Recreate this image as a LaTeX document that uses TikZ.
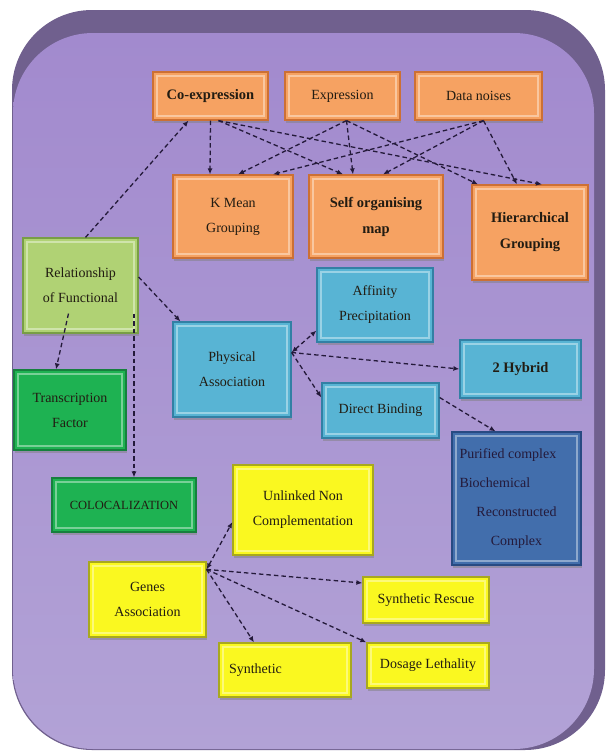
\documentclass[tikz,border=0pt]{standalone}
\usepackage{fontspec}
\setmainfont{Liberation Serif}
\usetikzlibrary{shadows,arrows.meta}
\definecolor{rim}{RGB}{112,96,142}
\definecolor{lavTop}{RGB}{162,138,206}
\definecolor{purpMid}{RGB}{140,94,180}
\definecolor{lavBot}{RGB}{178,162,214}
\definecolor{ink}{RGB}{34,28,18}
\definecolor{ink2}{RGB}{36,26,58}
\definecolor{orF}{RGB}{246,162,98}
\definecolor{orE}{RGB}{204,112,52}
\definecolor{lgF}{RGB}{176,210,116}
\definecolor{lgE}{RGB}{120,158,70}
\definecolor{gF}{RGB}{30,178,82}
\definecolor{gE}{RGB}{22,128,62}
\definecolor{cF}{RGB}{88,180,212}
\definecolor{cE}{RGB}{50,128,164}
\definecolor{dbF}{RGB}{66,110,172}
\definecolor{dbE}{RGB}{40,74,130}
\definecolor{yF}{RGB}{250,248,32}
\definecolor{yE}{RGB}{168,168,30}
\tikzset{
  box/.style={line width=1.2pt, align=center, text=ink, inner sep=2pt,
    font=\fontsize{14}{25}\selectfont,
    drop shadow={shadow xshift=1pt, shadow yshift=-2.5pt, opacity=.5},
    path picture={\draw[white, opacity=.4, line width=1.4pt]
      ([shift={(4pt,-4pt)}]path picture bounding box.north west) rectangle
      ([shift={(-4pt,4pt)}]path picture bounding box.south east);}},
  orbox/.style={box, fill=orF, draw=orE},
  lgbox/.style={box, fill=lgF, draw=lgE},
  gbox/.style={box, fill=gF, draw=gE},
  cbox/.style={box, fill=cF, draw=cE},
  dbbox/.style={box, fill=dbF, draw=dbE, text=ink2},
  ybox/.style={box, fill=yF, draw=yE},
  big/.style={font=\fontsize{14.5}{26}\selectfont\bfseries},
  link/.style={draw=ink2, line width=1.3pt, dash pattern=on 4.5pt off 3pt, ->},
  >={Latex[length=6pt,width=5pt]}
}
\begin{document}
\begin{tikzpicture}[x=1pt,y=-1pt]
  \useasboundingbox (0,0) rectangle (609,753);
  % background panel
  \fill[rim, rounded corners=80pt] (12,10) rectangle (605,750);
  \shade[top color=lavTop, middle color=purpMid, bottom color=lavBot, rounded corners=80pt]
    (13,33) rectangle (594,749);

  % boxes
  \node[orbox, big, minimum width=115pt, minimum height=48pt] (coexp) at (210.5,96) {Co-expression};
  \node[orbox, minimum width=115pt, minimum height=48pt] (expr) at (342.5,96) {Expression};
  \node[orbox, minimum width=127pt, minimum height=48pt] (noise) at (478.5,96) {Data noises};
  \node[orbox, minimum width=120pt, minimum height=83pt] (kmean) at (233,216.5) {K Mean\\Grouping};
  \node[orbox, big, minimum width=134pt, minimum height=83pt] (som) at (376,216.5) {Self organising\\map};
  \node[orbox, big, minimum width=116pt, minimum height=95pt] (hier) at (530,232.5) {Hierarchical\\Grouping};
  \node[lgbox, minimum width=115pt, minimum height=95pt] (rel) at (80.5,285.5) {Relationship\\of Functional};
  \node[cbox, minimum width=116pt, minimum height=74pt] (affin) at (375,305) {Affinity\\Precipitation};
  \node[cbox, minimum width=118pt, minimum height=95pt] (phys) at (232,369.5) {Physical\\Association};
  \node[cbox, big, minimum width=121pt, minimum height=58pt] (hyb) at (520.5,369) {2 Hybrid};
  \node[cbox, minimum width=117pt, minimum height=55pt] (bind) at (380.5,410.5) {Direct Binding};
  \node[gbox, minimum width=112pt, minimum height=80pt] (transc) at (70,410) {Transcription\\Factor};
  \node[dbbox, minimum width=129pt, minimum height=133pt, font=\fontsize{14}{29}\selectfont] (purif) at (516.5,498.5)
    {\parbox{114pt}{\raggedright Purified complex\\Biochemical\par\centering Reconstructed\\Complex}};
  \node[gbox, minimum width=144pt, minimum height=54pt, font=\fontsize{12.5}{20}\selectfont] (coloc) at (124,505) {COLOCALIZATION};
  \node[ybox, minimum width=140pt, minimum height=90pt] (unlink) at (303,510) {Unlinked Non\\Complementation};
  \node[ybox, minimum width=117pt, minimum height=75pt] (genes) at (147.5,599.5) {Genes\\Association};
  \node[ybox, minimum width=126pt, minimum height=46pt] (rescue) at (426,600) {Synthetic Rescue};
  \node[ybox, text width=112pt, inner xsep=10pt, align=left, minimum height=54pt] (synth) at (285,670) {Synthetic};
  \node[ybox, minimum width=122pt, minimum height=45pt] (dosage) at (428,665.5) {Dosage Lethality};

  % connectors
  \begin{scope}[link]
    \draw (coexp.south) to ([xshift=-23pt]kmean.north);
    \draw ([xshift=8pt]coexp.south) to ([xshift=-33pt]som.north);
    \draw ([xshift=8pt]coexp.south) to ([xshift=12pt]hier.north);
    \draw ([xshift=4pt]expr.south) to ([xshift=5pt]kmean.north);
    \draw ([xshift=4pt]expr.south) to ([xshift=-23pt]som.north);
    \draw ([xshift=4pt]expr.south) to ([xshift=-52pt]hier.north);
    \draw ([xshift=5pt]noise.south) to ([xshift=40pt]kmean.north);
    \draw ([xshift=5pt]noise.south) to ([xshift=7pt]som.north);
    \draw ([xshift=5pt]noise.south) to ([xshift=-13pt]hier.north);
    \draw ([xshift=5pt]rel.north) to ([xshift=-22pt]coexp.south);
    \draw ([yshift=8.5pt]rel.east) to ([xshift=8pt]phys.north west);
    \draw ([xshift=-12pt,yshift=20pt]rel.south) to ([xshift=-14pt]transc.north);
    \draw ([xshift=53.5pt,yshift=20pt]rel.south) to ([xshift=10pt]coloc.north);
    \draw[<->] ([yshift=17pt]phys.east) to ([yshift=12pt]affin.south west);
    \draw ([yshift=17pt]phys.east) to (hyb.west);
    \draw ([yshift=17pt]phys.east) to ([yshift=13pt]bind.west);
    \draw ([yshift=13pt]bind.east) to ([xshift=-21pt]purif.north);
    \draw[<->] ([yshift=-8pt]genes.north east) to ([yshift=-12pt]unlink.west);
    \draw ([yshift=-8pt]genes.north east) to ([yshift=17pt]rescue.west);
    \draw ([yshift=-8pt]genes.north east) to ([xshift=-31pt]synth.north);
    \draw ([yshift=-8pt]genes.north east) to (dosage.north west);
  \end{scope}
\end{tikzpicture}
\end{document}
